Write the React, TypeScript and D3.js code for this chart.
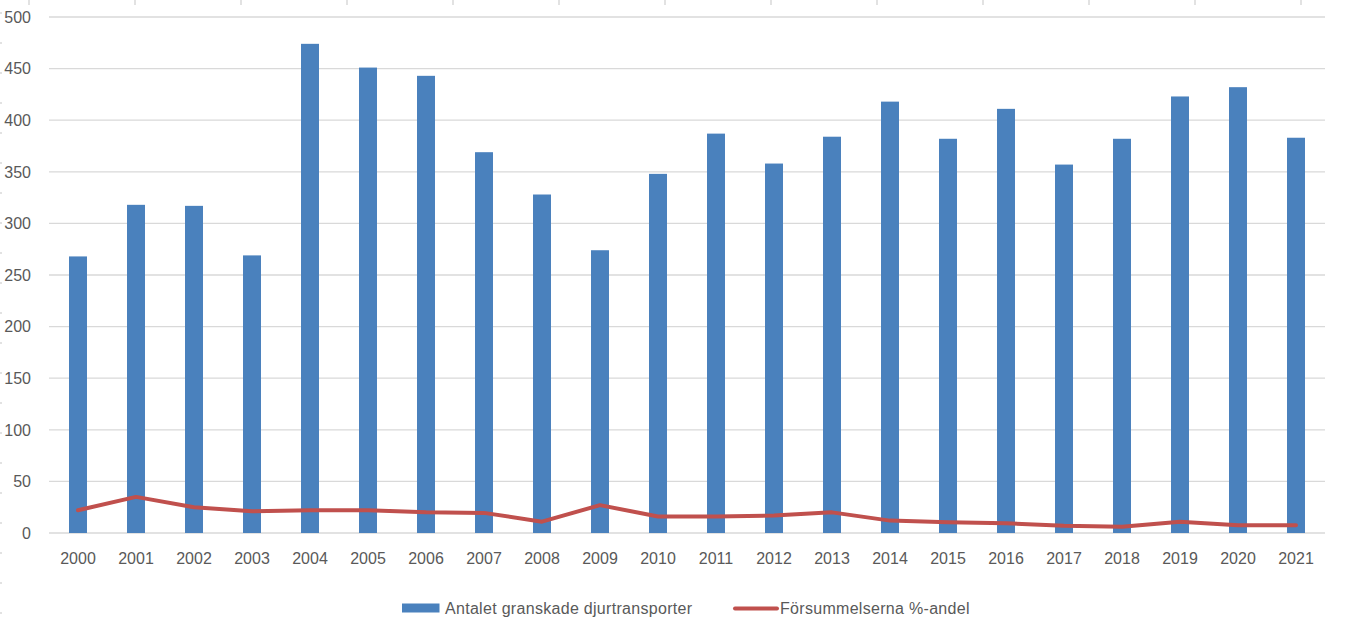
import React from "react";
import * as d3 from "d3";

const years = ["2000","2001","2002","2003","2004","2005","2006","2007","2008","2009","2010","2011","2012","2013","2014","2015","2016","2017","2018","2019","2020","2021"];
const granskade = [268,318,317,269,474,451,443,369,328,274,348,387,358,384,418,382,411,357,382,423,432,383];
const forsummelser = [22,35,25,21,22,22,20,19.5,11,27,16,16,17,20,12,10.5,9.5,7,6,11,7.5,7.5];
const yTicks = [0,50,100,150,200,250,300,350,400,450,500];
const seriesNames = ["Antalet granskade djurtransporter","Försummelserna %-andel"];

const W = 1346, H = 632;
const BLUE = "#4A81BD", RED = "#C0504D", GRID = "#D9D9D9", TXT = "#595959";
const FONT = "'Liberation Sans', Arial, sans-serif";

export default function App() {
  const x = d3.scaleBand<string>().domain(years).range([49, 1325]).paddingInner(0.69).paddingOuter(0.345);
  const y = d3.scaleLinear().domain([0, 500]).range([533, 17]);
  const cx = (yr: string) => (x(yr) as number) + x.bandwidth() / 2;
  const line = d3.line<number>().x((_, i) => cx(years[i])).y(d => y(d));
  const topTicks = d3.range(29, W, 106);
  const leftTicks = d3.range(13, H, 30);
  return (
    <svg width={W} height={H} style={{ position: "absolute", left: 0, top: 0, background: "#fff" }} fontFamily={FONT}>
      {topTicks.map(t => <line key={"tt"+t} x1={t} x2={t} y1={0} y2={5} stroke={GRID} strokeWidth={1.5} />)}
      {leftTicks.map(t => <line key={"lt"+t} x1={0} x2={2} y1={t} y2={t} stroke={GRID} strokeWidth={1.5} />)}
      {yTicks.map(t => (
        <g key={"g"+t}>
          <line x1={49} x2={1325} y1={y(t)} y2={y(t)} stroke={GRID} strokeWidth={1.3} />
          <text x={31} y={y(t)} dy="0.36em" textAnchor="end" fontSize={16} fill={TXT}>{t}</text>
        </g>
      ))}
      {years.map((yr, i) => (
        <rect key={"b"+yr} x={x(yr)} y={y(granskade[i])} width={x.bandwidth()} height={y(0) - y(granskade[i])} fill={BLUE} />
      ))}
      <path d={line(forsummelser) || ""} fill="none" stroke={RED} strokeWidth={4} strokeLinejoin="round" strokeLinecap="round" />
      {years.map(yr => (
        <text key={"xl"+yr} x={cx(yr)} y={564} textAnchor="middle" fontSize={16} fill={TXT}>{yr}</text>
      ))}
      <rect x={402} y={603.5} width={37.5} height={9} fill={BLUE} />
      <text x={445} y={613.5} fontSize={16} letterSpacing={0.3} fill={TXT}>{seriesNames[0]}</text>
      <line x1={735} x2={777} y1={608.5} y2={608.5} stroke={RED} strokeWidth={4} strokeLinecap="round" />
      <text x={780} y={613.5} fontSize={16} letterSpacing={0.3} fill={TXT}>{seriesNames[1]}</text>
    </svg>
  );
}
